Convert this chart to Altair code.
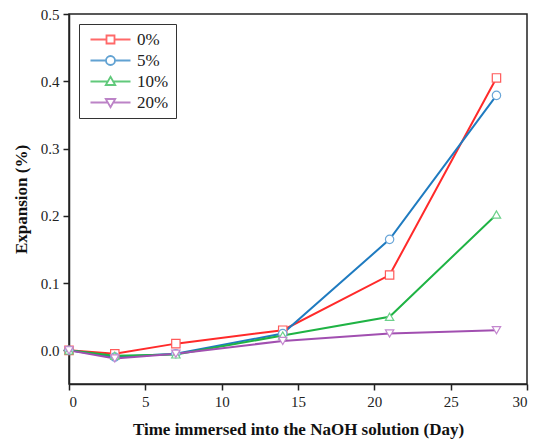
import altair as alt
import pandas as pd

days = [0, 3, 7, 14, 21, 28]
series_names = ["0%", "5%", "10%", "20%"]
exp_0 = [0.0, -0.005, 0.010, 0.030, 0.112, 0.405]
exp_5 = [0.0, -0.010, -0.005, 0.025, 0.165, 0.379]
exp_10 = [0.0, -0.008, -0.006, 0.022, 0.050, 0.202]
exp_20 = [0.0, -0.012, -0.005, 0.014, 0.025, 0.030]

line_colors = ["#ff2a2a", "#1f7bc0", "#1fb344", "#a14fb0"]
marker_colors = ["#ff5a5a", "#6aa6d8", "#6cd08a", "#c487cf"]
shapes = ["square", "circle", "triangle-up", "triangle-down"]
legend_paths = [
    "M-4,0H-0.8M0.8,0H4M-0.8,-0.8H0.8V0.8H-0.8Z",
    "M-4,0H-0.9M0.9,0H4M0.9,0A0.9,0.9,0,1,1,-0.9,0A0.9,0.9,0,1,1,0.9,0Z",
    "M-4,0H-0.55M0.55,0H4M0,-0.95L0.95,0.7L-0.95,0.7Z",
    "M-4,0H-0.55M0.55,0H4M0,0.95L0.95,-0.7L-0.95,-0.7Z",
]
x_major = [0, 5, 10, 15, 20, 25, 30]
y_major = [0.0, 0.1, 0.2, 0.3, 0.4, 0.5]

rows = []
for name, vals in zip(series_names, [exp_0, exp_5, exp_10, exp_20]):
    for d, v in zip(days, vals):
        rows.append({"day": d, "exp": v, "conc": name, "series": name})
df = pd.DataFrame(rows)

FONT = "Liberation Serif, Times New Roman, serif"

x_enc = alt.X(
    "day:Q",
    scale=alt.Scale(domain=[0, 30], nice=False),
    axis=alt.Axis(values=x_major, format="d", labelFont=FONT, titleFont=FONT,
                  title="Time immersed into the NaOH solution (Day)"),
)
y_enc = alt.Y(
    "exp:Q",
    scale=alt.Scale(domain=[-0.05, 0.5], nice=False),
    axis=alt.Axis(values=y_major, format=".1f", labelFont=FONT, titleFont=FONT,
                  title="Expansion (%)"),
)

lines = alt.Chart(df).mark_line(strokeWidth=2).encode(
    x=x_enc,
    y=y_enc,
    color=alt.Color("conc:N", scale=alt.Scale(domain=series_names, range=line_colors), legend=None),
    detail="conc:N",
)

points = alt.Chart(df).mark_point(fill="white", filled=False, strokeWidth=1.2, size=70, opacity=1).encode(
    x="day:Q",
    y="exp:Q",
    stroke=alt.Stroke("conc:N", scale=alt.Scale(domain=series_names, range=marker_colors), legend=None),
    shape=alt.Shape("conc:N", scale=alt.Scale(domain=series_names, range=shapes), legend=None),
)

legend_layer = alt.Chart(df).transform_filter("datum.day < -100").mark_point(
    filled=False, strokeWidth=1.8, size=100
).encode(
    x="day:Q",
    y="exp:Q",
    color=alt.Color(
        "series:N",
        scale=alt.Scale(domain=series_names, range=line_colors),
        legend=alt.Legend(
            title=None,
            orient="none",
            legendX=10,
            legendY=10,
            symbolSize=100,
            symbolStrokeWidth=1.8,
            labelFont=FONT,
            labelFontSize=17,
            labelColor="#222222",
            labelOffset=18,
            rowPadding=3,
            padding=7,
            strokeColor="#333333",
            fillColor="white",
            symbolOffset=16,
        ),
    ),
    shape=alt.Shape("series:N", scale=alt.Scale(domain=series_names, range=legend_paths)),
)

chart = (
    alt.layer(lines, points, legend_layer)
    .resolve_scale(color="independent", shape="independent")
    .properties(
        width=458,
        height=370,
        autosize=alt.AutoSizeParams(type="none"),
        padding={"left": 69, "top": 14, "right": 8, "bottom": 61},
    )
    .configure_view(stroke="#222222", strokeWidth=1.5)
    .configure_axis(
        domainColor="#222222",
        domainWidth=1.5,
        tickSize=6,
        tickColor="#222222",
        tickWidth=1.5,
        grid=False,
        labelFont=FONT,
        labelFontSize=15,
        labelColor="#222222",
        titleFont=FONT,
        titleFontSize=17,
        titleFontWeight="bold",
        titleColor="#111111",
    )
    .configure_axisX(labelPadding=4, titlePadding=12)
    .configure_axisY(labelPadding=4, titlePadding=10)
)

chart.save("out.html", embed_options={"renderer": "svg", "actions": False})
